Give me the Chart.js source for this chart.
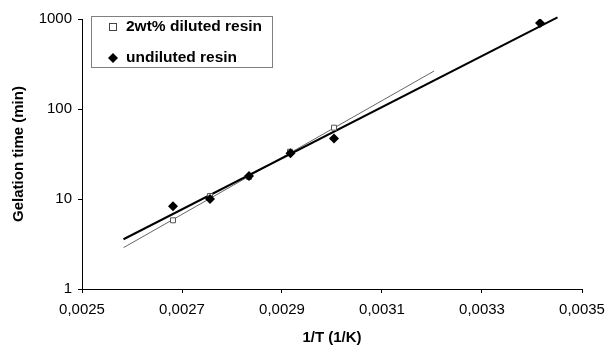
<!DOCTYPE html>
<html>
<head>
<meta charset="utf-8">
<script src="https://cdn.jsdelivr.net/npm/chart.js@4/dist/chart.umd.min.js"></script>
<style>html,body{margin:0;padding:0;background:#fff;}canvas{display:block;}</style>
</head>
<body>
<canvas id="c" width="607" height="347"></canvas>
<script>
// Data
const invTDiluted = [0.002682, 0.002756, 0.002834, 0.002916, 0.003004];
const gelDiluted = [5.8, 10.8, 17.6, 33.5, 62];
const invTUndiluted = [0.002682, 0.002756, 0.002834, 0.002917, 0.003004, 0.003416];
const gelUndiluted = [8.3, 10.0, 18.0, 32.2, 47, 900];
// Trend line end points
const trendDilutedX = [0.002583, 0.003204];
const trendDilutedY = [2.88, 264];
const trendUndilutedX = [0.002583, 0.003451];
const trendUndilutedY = [3.57, 1040];
// Axis ticks
const xTicks = [0.0025, 0.0027, 0.0029, 0.0031, 0.0033, 0.0035];
const yTicks = [1, 10, 100, 1000];
const seriesLabels = ['2wt% diluted resin', 'undiluted resin'];

const FONT = "'Liberation Sans', Arial, sans-serif";
const pts = (xs, ys) => xs.map((x, i) => ({x: x, y: ys[i]}));

const legendBox = {
  id: 'legendBox',
  afterDraw(chart) {
    const ctx = chart.ctx;
    ctx.save();
    ctx.fillStyle = '#fff';
    ctx.fillRect(91.5, 16.5, 181, 51);
    ctx.strokeStyle = '#808080';
    ctx.lineWidth = 1;
    ctx.strokeRect(91.5, 16.5, 181, 51);
    // entry 1: open square
    ctx.strokeStyle = '#444';
    ctx.fillStyle = '#fff';
    ctx.fillRect(109.5, 23.5, 7, 7);
    ctx.strokeRect(109.5, 23.5, 7, 7);
    // entry 2: diamond
    ctx.fillStyle = '#000';
    ctx.beginPath();
    ctx.moveTo(113, 53); ctx.lineTo(118, 58); ctx.lineTo(113, 63); ctx.lineTo(108, 58);
    ctx.closePath(); ctx.fill();
    ctx.fillStyle = '#000';
    ctx.font = "bold 15.5px " + FONT;
    ctx.textBaseline = 'middle';
    ctx.textAlign = 'left';
    ctx.fillText(seriesLabels[0], 126, 27);
    ctx.fillText(seriesLabels[1], 126, 58);
    ctx.restore();
  }
};

new Chart(document.getElementById('c'), {
  type: 'scatter',
  data: {
    datasets: [
      {
        label: seriesLabels[0],
        data: pts(invTDiluted, gelDiluted),
        pointStyle: 'rect',
        pointRadius: 3.5,
        borderColor: '#555',
        backgroundColor: '#fff',
        borderWidth: 1,
        order: 2
      },
      {
        label: seriesLabels[1],
        data: pts(invTUndiluted, gelUndiluted),
        pointStyle: 'rectRot',
        pointRadius: 5,
        borderColor: '#000',
        backgroundColor: '#000',
        borderWidth: 0,
        order: 1
      },
      {
        label: 'trend diluted',
        data: pts(trendDilutedX, trendDilutedY),
        showLine: true,
        pointRadius: 0,
        borderColor: '#666',
        borderWidth: 1,
        clip: false,
        order: 4
      },
      {
        label: 'trend undiluted',
        data: pts(trendUndilutedX, trendUndilutedY),
        showLine: true,
        pointRadius: 0,
        borderColor: '#000',
        borderWidth: 2,
        clip: false,
        order: 3
      }
    ]
  },
  options: {
    responsive: false,
    animation: false,
    layout: {padding: {top: 19, right: 25, left: 0, bottom: 0}},
    plugins: {legend: {display: false}, tooltip: {enabled: false}},
    scales: {
      x: {
        type: 'linear',
        min: xTicks[0],
        max: xTicks[xTicks.length - 1],
        afterFit(s) { s.height = 58; s.paddingLeft = 0; s.paddingRight = 0; },
        afterBuildTicks(s) { s.ticks = xTicks.map(v => ({value: v})); },
        ticks: {
          color: '#000',
          font: {family: FONT, size: 15},
          padding: 8,
          maxRotation: 0,
          callback: v => Number(v).toFixed(4).replace('.', ',')
        },
        grid: {display: true, drawOnChartArea: false, drawTicks: true, tickLength: 4, color: '#000'},
        border: {display: true, color: '#000', width: 1},
        title: {display: true, text: '1/T (1/K)', color: '#000', font: {family: FONT, size: 15, weight: 'bold'}, padding: {top: 0, bottom: 0}}
      },
      y: {
        type: 'logarithmic',
        min: yTicks[0],
        max: yTicks[yTicks.length - 1],
        afterFit(s) { s.width = 82; },
        afterBuildTicks(s) { s.ticks = yTicks.map(v => ({value: v})); },
        ticks: {
          color: '#000',
          font: {family: FONT, size: 15},
          padding: 6,
          callback: v => String(v)
        },
        grid: {display: true, drawOnChartArea: false, drawTicks: true, tickLength: 4, color: '#000'},
        border: {display: true, color: '#000', width: 1},
        title: {display: true, text: 'Gelation time (min)', color: '#000', font: {family: FONT, size: 15, weight: 'bold'}, padding: {top: 10, bottom: 0}}
      }
    }
  },
  plugins: [legendBox]
});
</script>
</body>
</html>
